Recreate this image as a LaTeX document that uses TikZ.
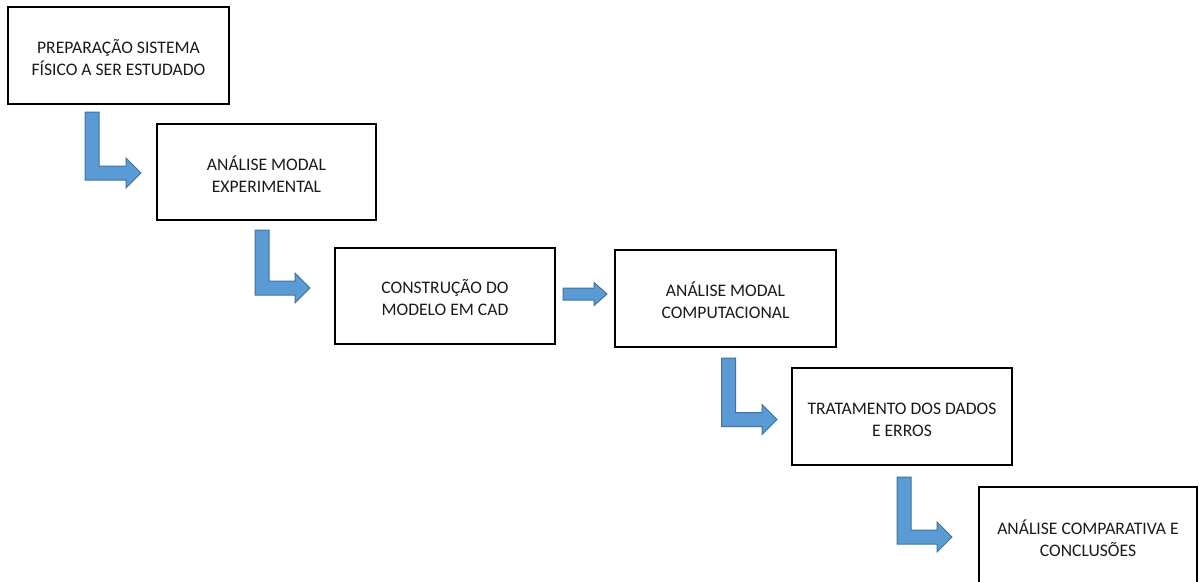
\documentclass[tikz,border=0pt]{standalone}
\usepackage{fontspec}
\setmainfont{Carlito}
\usetikzlibrary{calc}
\definecolor{arrowfill}{HTML}{5B9BD5}
\definecolor{arrowline}{HTML}{41719C}
\definecolor{txt}{HTML}{1A1A1A}
\tikzset{
  boxtext/.style={align=center, text=txt, font=\fontsize{17.6}{22}\selectfont, inner sep=0pt},
  box/.style={draw=black, line width=1.6pt, rectangle, inner sep=0pt},
  blockarrow/.style={fill=arrowfill, draw=arrowline, line width=1pt, line join=miter}
}
\newcommand\bentarrow[2]{%
  \path[blockarrow] let \p1=(#1), \p2=(#2) in
    (\x1-7pt,\y1) -- (\x1+7pt,\y1) -- (\x1+7pt,\y2+7pt) -- (\x2-15pt,\y2+7pt)
    -- (\x2-15pt,\y2+15pt) -- (\x2,\y2) -- (\x2-15pt,\y2-15pt) -- (\x2-15pt,\y2-7pt)
    -- (\x1-7pt,\y2-7pt) -- cycle;}
\begin{document}
\begin{tikzpicture}[x=1pt,y=-1pt]
\useasboundingbox (0,0) rectangle (1199,581);
\node[box, minimum width=221, minimum height=97] (b1) at (118.5,55.5) {};
\node[box, minimum width=219, minimum height=96] (b2) at (266.5,172) {};
\node[box, minimum width=220, minimum height=96] (b3) at (445,296) {};
\node[box, minimum width=221, minimum height=97] (b4) at (725.5,298.5) {};
\node[box, minimum width=220, minimum height=97] (b5) at (902,416.5) {};
\node[box, minimum width=218, minimum height=100] (b6) at (1088,537) {};
\node[boxtext] (b1t) at ([yshift=-2pt]b1.center) {PREPARAÇÃO SISTEMA\\FÍSICO A SER ESTUDADO};
\node[boxtext] (b2t) at ([yshift=-2pt]b2.center) {ANÁLISE MODAL\\EXPERIMENTAL};
\node[boxtext] (b3t) at ([yshift=-2pt]b3.center) {CONSTRUÇÃO DO\\MODELO EM CAD};
\node[boxtext] (b4t) at ([yshift=-2pt]b4.center) {ANÁLISE MODAL\\COMPUTACIONAL};
\node[boxtext] (b5t) at ([yshift=-3pt]b5.center) {TRATAMENTO DOS DADOS\\E ERROS};
\node[boxtext] (b6t) at ([yshift=-1pt]b6.center) {ANÁLISE COMPARATIVA E\\CONCLUSÕES};
% bent arrows
\coordinate (s1) at (92,112);   \coordinate (t1) at (141,173);
\coordinate (s2) at (262,230);  \coordinate (t2) at (310,288);
\coordinate (s3) at (728.5,358);\coordinate (t3) at (777,419.5);
\coordinate (s4) at (904,477);  \coordinate (t4) at (952,537);
\bentarrow{s1}{t1}
\bentarrow{s2}{t2}
\bentarrow{s3}{t3}
\bentarrow{s4}{t4}
% straight arrow
\coordinate (sa) at (563,294);
\coordinate (ta) at (607,294);
\path[blockarrow] let \p1=(sa), \p2=(ta) in
  (\x1,\y1+6pt) -- (\x2-13pt,\y1+6pt) -- (\x2-13pt,\y1+11.5pt) -- (\x2,\y2)
  -- (\x2-13pt,\y1-11.5pt) -- (\x2-13pt,\y1-6pt) -- (\x1,\y1-6pt) -- cycle;
\end{tikzpicture}
\end{document}
